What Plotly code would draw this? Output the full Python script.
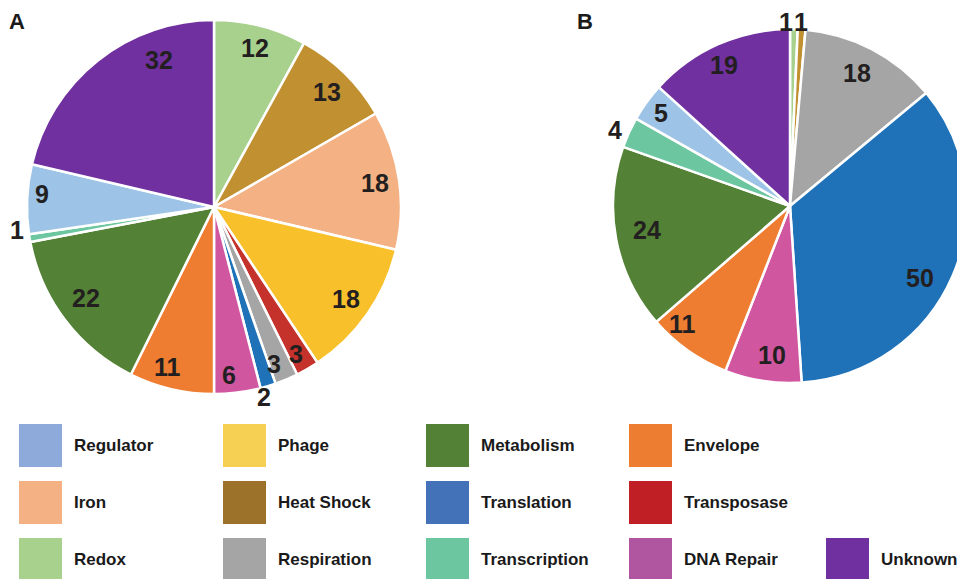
import math
import plotly.graph_objects as go

# ---------------- data ----------------
a_labels = ["Redox", "Heat Shock", "Iron", "Phage", "Transposase", "Respiration",
            "Translation", "DNA Repair", "Envelope", "Metabolism", "Transcription",
            "Regulator", "Unknown"]
a_values = [12, 13, 18, 18, 3, 3, 2, 6, 11, 22, 1, 9, 32]

b_labels = ["Redox", "Heat Shock", "Respiration", "Translation", "DNA Repair",
            "Envelope", "Metabolism", "Transcription", "Regulator", "Unknown"]
b_values = [1, 1, 18, 50, 10, 11, 24, 4, 5, 19]

legend_names = ["Regulator", "Phage", "Metabolism", "Envelope",
                "Iron", "Heat Shock", "Translation", "Transposase",
                "Redox", "Respiration", "Transcription", "DNA Repair", "Unknown"]

# ---------------- style ----------------
pie_colors = {
    "Redox": "#a9d18e", "Heat Shock": "#c19030", "Iron": "#f4b183",
    "Phage": "#f8c02a", "Transposase": "#c5312b", "Respiration": "#a5a5a5",
    "Translation": "#1f72b8", "DNA Repair": "#d056a0", "Envelope": "#ee7d31",
    "Metabolism": "#538135", "Transcription": "#6cc6a0", "Regulator": "#9dc3e6",
    "Unknown": "#7030a0",
}
legend_colors = ["#8eaadb", "#f5d052", "#538135", "#ed7d31",
                 "#f4b183", "#9c712a", "#4472b8", "#c01f26",
                 "#a9d18e", "#a5a5a5", "#6cc6a0", "#b055a0", "#7030a0"]
legend_cols = [0, 1, 2, 3, 0, 1, 2, 3, 0, 1, 2, 3, 4]
legend_rows = [0, 0, 0, 0, 1, 1, 1, 1, 2, 2, 2, 2, 2]

# label placement (fraction of radius, angle shift in degrees)
a_lab_r = [0.88, 0.86, 0.87, 0.86, 0.90, 0.90, 1.05, 0.90, 0.89, 0.84, 1.06, 0.92, 0.84]
a_lab_da = [0, 0, 0, 0, 1, 2, 2, 2, 3, 2, 3, 2, 18]
b_lab_r = [1.04, 1.04, 0.84, 0.84, 0.85, 0.90, 0.82, 1.08, 0.90, 0.88]
b_lab_da = [-2.5, -0.3, -1, 5.5, -2, 7, 1, -1, 0, -1]

W, H = 965, 579
OFF = 8  # page body margin in the browser


def px(x):
    return (x - OFF) / W


def py(y):
    return 1 - (y - OFF) / H


A_C, A_R = (214, 207), 187
B_C, B_R = (790, 206), 177

num_font = dict(family="Liberation Sans, Arial, sans-serif", size=25, color="#231f20")

fig = go.Figure()


def add_pie(labels, values, center, radius, lab_r, lab_da):
    cx, cy = center
    fig.add_trace(go.Pie(
        labels=labels, values=values, sort=False, direction="clockwise", rotation=0,
        marker=dict(colors=[pie_colors[l] for l in labels], line=dict(color="white", width=2.5)),
        textinfo="none", showlegend=False, hoverinfo="label+value",
        domain=dict(x=[px(cx - radius), px(cx + radius)], y=[py(cy + radius), py(cy - radius)]),
    ))
    total = sum(values)
    cum = 0
    for v, fr, da in zip(values, lab_r, lab_da):
        ang = math.radians((cum + v / 2) / total * 360 + da)
        cum += v
        lx = cx + fr * radius * math.sin(ang)
        ly = cy - fr * radius * math.cos(ang)
        fig.add_annotation(x=px(lx), y=py(ly), xref="paper", yref="paper",
                           text=f"<b>{v}</b>", showarrow=False, borderpad=0,
                           xanchor="center", yanchor="middle", font=num_font)


add_pie(a_labels, a_values, A_C, A_R, a_lab_r, a_lab_da)
add_pie(b_labels, b_values, B_C, B_R, b_lab_r, b_lab_da)

# panel letters
for txt, x in [("A", 7), ("B", 575)]:
    fig.add_annotation(x=px(x), y=py(21), xref="paper", yref="paper",
                       text=f"<b>{txt}</b>", showarrow=False, xanchor="left", yanchor="middle",
                       font=dict(family="Liberation Sans, Arial, sans-serif", size=22, color="#1a1a1a"))

# legend (manual grid)
col_x = [19, 223, 426, 629, 826]
row_y = [424, 481, 538]
sw_w, sw_h = 43, 43
for name, color, c, r in zip(legend_names, legend_colors, legend_cols, legend_rows):
    x0 = col_x[c]
    y0 = row_y[r]
    fig.add_shape(type="rect", xref="paper", yref="paper",
                  x0=px(x0), x1=px(x0 + sw_w), y0=py(y0 + sw_h), y1=py(y0),
                  fillcolor=color, line=dict(width=0))
    fig.add_annotation(x=px(x0 + 53), y=py(y0 + 21.5), xref="paper", yref="paper",
                       text=f"<b>{name}</b>", showarrow=False, xanchor="left", yanchor="middle",
                       font=dict(family="Liberation Sans, Arial, sans-serif",
                                 size=17, color="#1a1a1a"))

fig.update_layout(width=W, height=H, margin=dict(l=0, r=0, t=0, b=0),
                  paper_bgcolor="white", plot_bgcolor="white")
fig.write_html("out.html")
